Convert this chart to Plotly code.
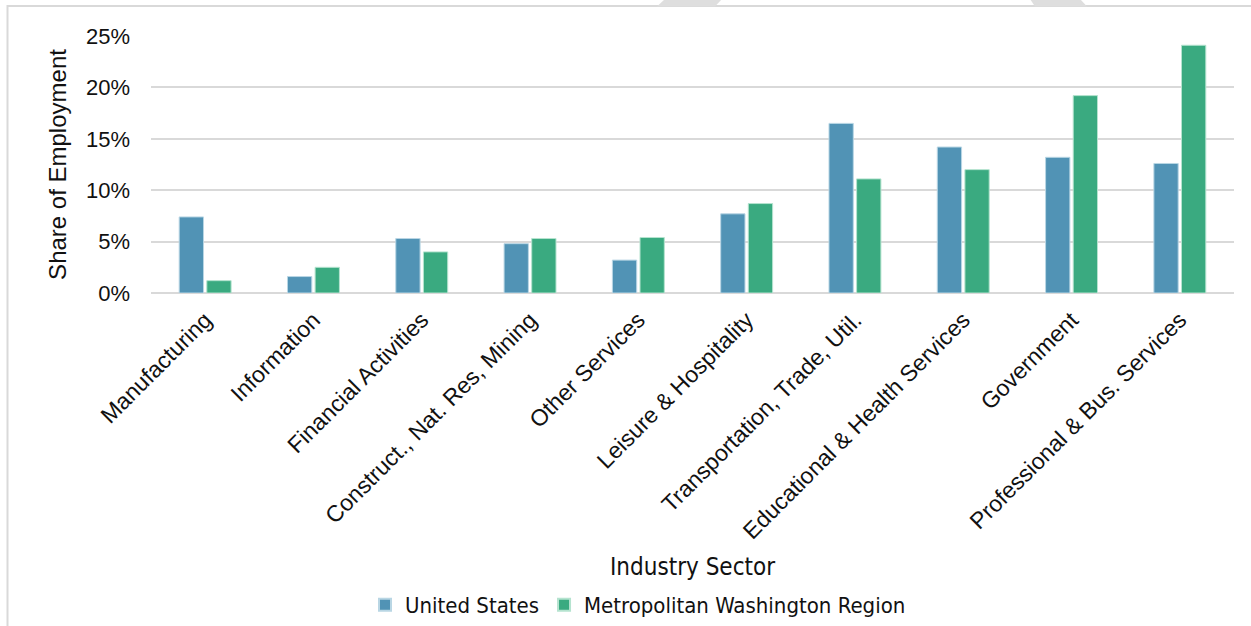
import plotly.graph_objects as go

# Share of employment by industry sector
sectors = [
    "Manufacturing",
    "Information",
    "Financial Activities",
    "Construct., Nat. Res, Mining",
    "Other Services",
    "Leisure & Hospitality",
    "Transportation, Trade, Util.",
    "Educational & Health Services",
    "Government",
    "Professional & Bus. Services",
]
united_states = [7.4, 1.6, 5.3, 4.8, 3.2, 7.7, 16.5, 14.2, 13.2, 12.6]
metro_washington = [1.2, 2.5, 4.0, 5.3, 5.4, 8.7, 11.1, 12.0, 19.2, 24.1]
y_ticks = [0, 5, 10, 15, 20, 25]
y_tick_labels = ["0%", "5%", "10%", "15%", "20%", "25%"]

BLUE = "#5193b5"
GREEN = "#3aaa80"
GRID = "#d9d9d9"
NARROW = "DejaVu Sans Condensed, Roboto Condensed, Roboto, sans-serif"

W, H = 1251, 626
ML, MR, MT, MB = 151, 17, 36, 333
PW, PH = W - ML - MR, H - MT - MB


def px(x, y):
    """Convert page pixel position to paper coordinates."""
    return (x - ML) / PW, (H - MB - y) / PH


fig = go.Figure()
fig.add_trace(go.Bar(
    x=sectors, y=united_states, name="United States",
    marker=dict(color=BLUE, line=dict(color="#b9d6e4", width=1)),
))
fig.add_trace(go.Bar(
    x=sectors, y=metro_washington, name="Metropolitan Washington Region",
    marker=dict(color=GREEN, line=dict(color="#b5e3cf", width=1)),
))

# outer chart frame (left and top edges visible)
x0, y0 = px(7.5, 6)
x1, y1 = px(1260, 640)
fig.add_shape(type="rect", xref="paper", yref="paper", x0=x0, y0=y1, x1=x1, y1=y0,
              line=dict(color=GRID, width=2), layer="below")


def path(points):
    pts = [px(a, b) for a, b in points]
    return "M " + " L ".join(f"{a},{b}" for a, b in pts) + " Z"


for pts in ([(657, 6.5), (715, 6.5), (722, -1), (665, -1)],
            [(1035, 6.5), (1087, 6.5), (1080, -1), (1030, -1)]):
    fig.add_shape(type="path", xref="paper", yref="paper", path=path(pts),
                  fillcolor="#dedede", line=dict(width=0), layer="below")

tx, ty = px(692, 567)
fig.add_annotation(text="Industry Sector", xref="paper", yref="paper", x=tx, y=ty,
                   showarrow=False, xanchor="center", yanchor="middle",
                   font=dict(family=NARROW, size=24, color="#111111"))

lx, ly = px(638, 605)
fig.update_layout(
    width=W, height=H,
    margin=dict(l=ML, r=MR, t=MT, b=MB, autoexpand=False),
    paper_bgcolor="white", plot_bgcolor="white",
    barmode="group", bargap=0.49, bargroupgap=0.12,
    font=dict(family="Liberation Sans", color="#111111"),
    showlegend=True,
    legend=dict(orientation="h", x=lx, y=ly, xanchor="center", yanchor="middle",
                font=dict(family=NARROW, size=22, color="#111111"),
                itemsizing="constant", itemwidth=30, traceorder="normal",
                bgcolor="rgba(0,0,0,0)"),
    xaxis=dict(tickangle=-45, tickfont=dict(size=23), showgrid=False,
               showline=False, ticks="", ticklabelstandoff=8, automargin=False),
    yaxis=dict(range=[0, 25], tickvals=y_ticks, ticktext=y_tick_labels,
               tickfont=dict(size=22), showgrid=True, gridcolor=GRID, gridwidth=1.5,
               zeroline=True, zerolinecolor=GRID, zerolinewidth=1.5,
               showline=False, ticks="", ticklabelstandoff=20,
               title=dict(text="Share of Employment", font=dict(size=24), standoff=12),
               automargin=False),
)

fig.write_html("out.html")
